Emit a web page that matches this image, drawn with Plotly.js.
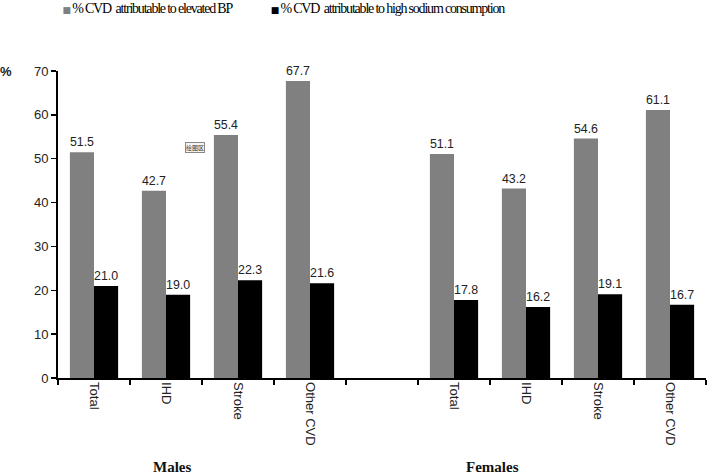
<!DOCTYPE html>
<html>
<head>
<meta charset="utf-8">
<script src="https://cdn.plot.ly/plotly-3.0.1.min.js"></script>
<style>
html,body{margin:0;padding:0;background:#fff;}
#chart{width:709px;height:474px;}
.annotation[data-index="0"] text, .annotation[data-index="1"] text {letter-spacing:-1.2px;}
</style>
</head>
<body>
<div id="chart"></div>
<script>
// Categories (a blank spacer category separates Males from Females)
var categories = ["Total", "IHD", "Stroke", "Other CVD", " ", "Total ", "IHD ", "Stroke ", "Other CVD "];
var tickLabels = ["Total", "IHD", "Stroke", "Other CVD", "", "Total", "IHD", "Stroke", "Other CVD"];
var barCategories = ["Total", "IHD", "Stroke", "Other CVD", "Total ", "IHD ", "Stroke ", "Other CVD "];
var elevatedBP = [51.5, 42.7, 55.4, 67.7, 51.1, 43.2, 54.6, 61.1];
var highSodium = [21.0, 19.0, 22.3, 21.6, 17.8, 16.2, 19.1, 16.7];
var seriesNames = ["% CVD  attributable to elevated BP", "% CVD  attributable to high sodium consumption"];
var seriesColors = ["#808080", "#000000"];
var groupLabels = ["Males", "Females"];

var barFont = {family: "Liberation Sans, Arial, sans-serif", size: 13, color: "#222"};

var traces = [
  {type: "bar", x: barCategories, y: elevatedBP, name: seriesNames[0], showlegend: false,
   marker: {color: seriesColors[0]}, texttemplate: "%{y:.1f}", textposition: "outside",
   textfont: barFont, cliponaxis: false, hoverinfo: "skip"},
  {type: "bar", x: barCategories, y: highSodium, name: seriesNames[1], showlegend: false,
   marker: {color: seriesColors[1]}, texttemplate: "%{y:.1f}", textposition: "outside",
   textfont: barFont, cliponaxis: false, hoverinfo: "skip"}
];

var legendFont = {family: "Liberation Serif, Times New Roman, serif", size: 14, color: "#000"};
function legendText(i) {
  return '<span style="color:' + seriesColors[i] + ';font-family:DejaVu Sans;font-size:9px">■</span> ' + seriesNames[i];
}

var layout = {
  width: 709, height: 474,
  margin: {l: 58, r: 3, t: 71, b: 96},
  paper_bgcolor: "#fff", plot_bgcolor: "#fff",
  barmode: "group", bargap: 0.33, bargroupgap: 0,
  showlegend: false,
  xaxis: {type: "category", categoryorder: "array", categoryarray: categories,
          tickvals: categories, ticktext: tickLabels,
          range: [-0.5, 8.5], tickson: "boundaries", ticks: "outside", ticklen: 5,
          tickwidth: 1.5, tickcolor: "#000", showline: true, linecolor: "#000", linewidth: 1.5,
          tickangle: 90, showgrid: false, zeroline: false,
          tickfont: {family: "Liberation Sans, Arial, sans-serif", size: 13, color: "#222"}},
  yaxis: {range: [0, 70], dtick: 10, ticks: "outside", ticklen: 5, tickwidth: 1.5, tickcolor: "#000",
          showline: true, linecolor: "#000", linewidth: 2, showgrid: false, zeroline: false,
          tickfont: {family: "Liberation Sans, Arial, sans-serif", size: 13, color: "#222"}},
  annotations: [
    {text: legendText(0), xref: "paper", yref: "paper", x: -0.030, y: 1.205, xanchor: "left", yanchor: "middle",
     showarrow: false, font: legendFont},
    {text: legendText(1), xref: "paper", yref: "paper", x: 0.281, y: 1.205, xanchor: "left", yanchor: "middle",
     showarrow: false, font: legendFont},
    {text: "<b>%</b>", xref: "paper", yref: "paper", x: -0.08, y: 1.0, xanchor: "center", yanchor: "middle",
     showarrow: false, font: {family: "Liberation Sans, Arial, sans-serif", size: 13, color: "#222"}},
    {text: "<b>" + groupLabels[0] + "</b>", xref: "paper", yref: "paper", x: 0.176, y: -0.29,
     xanchor: "center", yanchor: "middle", showarrow: false,
     font: {family: "Liberation Serif, Times New Roman, serif", size: 15, color: "#111"}},
    {text: "<b>" + groupLabels[1] + "</b>", xref: "paper", yref: "paper", x: 0.671, y: -0.29,
     xanchor: "center", yanchor: "middle", showarrow: false,
     font: {family: "Liberation Serif, Times New Roman, serif", size: 15, color: "#111"}},
    {text: "绘图区", xref: "paper", yref: "paper", x: 0.211, y: 0.752, xanchor: "center", yanchor: "middle",
     showarrow: false, bordercolor: "#888", borderwidth: 1, borderpad: 0, bgcolor: "#f4f4f4",
     font: {family: "Noto Sans CJK SC, sans-serif", size: 6, color: "#333"}}
  ]
};

Plotly.newPlot("chart", traces, layout, {displayModeBar: false, staticPlot: true});
</script>
</body>
</html>
